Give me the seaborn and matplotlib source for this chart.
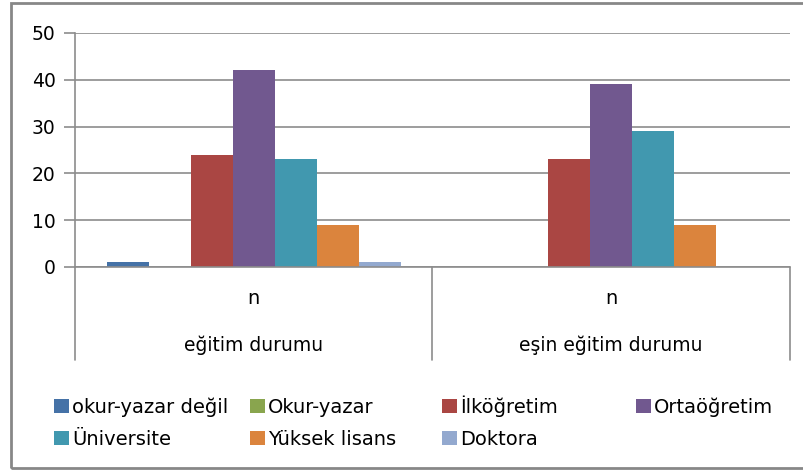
import matplotlib
matplotlib.use("Agg")
import matplotlib.pyplot as plt
import matplotlib.patches as mpatches
import seaborn as sns
import pandas as pd

groups = ["eğitim durumu", "eşin eğitim durumu"]
sub_label = "n"
series = ["okur-yazar değil", "Okur-yazar", "İlköğretim", "Ortaöğretim",
          "Üniversite", "Yüksek lisans", "Doktora"]
values_egitim = [1, 0, 24, 42, 23, 9, 1]
values_esin = [0, 0, 23, 39, 29, 9, 0]
colors = ["#4572A7", "#89A54E", "#AA4643", "#71588F", "#4198AF", "#DB843D", "#93A9CF"]
yticks = [0, 10, 20, 30, 40, 50]

rows = []
for g, vals in zip(groups, [values_egitim, values_esin]):
    for s, v in zip(series, vals):
        rows.append({"group": g, "series": s, "value": v})
df = pd.DataFrame(rows)

sns.set_theme(style="white")
plt.rcParams["font.family"] = ["DejaVu Sans"]
plt.rcParams["text.color"] = "black"

W, H = 804, 470
fig = plt.figure(figsize=(W / 100, H / 100), dpi=100)
ax = fig.add_axes([75 / W, 1 - 267 / H, 715 / W, 234 / H])

sns.barplot(data=df, x="group", y="value", hue="series", order=groups,
            hue_order=series, palette=colors, saturation=1, width=7 / 8.5,
            linewidth=0, ax=ax, legend=False)

ax.set_xlim(-0.5, 1.5)
ax.set_ylim(0, 50)
ax.set_yticks(yticks)
ax.set_yticklabels([str(t) for t in yticks], fontsize=13.5, color="#000000")
ax.yaxis.grid(True, color="#8c8c8c", linewidth=1.2)
ax.set_axisbelow(True)
ax.set_xlabel("")
ax.set_ylabel("")
ax.set_xticks([])
for side in ["top", "right", "bottom"]:
    ax.spines[side].set_visible(False)
ax.spines["left"].set_color("#8c8c8c")
ax.spines["left"].set_linewidth(1.2)
ax.tick_params(axis="y", which="both", left=True, length=8, width=1.2,
               color="#8c8c8c", pad=6)

# category axis region
depth = (360 - 267) / 234
xt = ax.get_xaxis_transform()
ax.plot([-0.5, 1.5], [0, 0], transform=xt, color="#8c8c8c", lw=1.2, clip_on=False)
for xb in [-0.5, 0.5, 1.5]:
    ax.plot([xb, xb], [0, -depth], transform=xt, color="#8c8c8c", lw=1.2, clip_on=False)
for i, g in enumerate(groups):
    ax.text(i, -(298 - 267) / 234, sub_label, transform=xt, ha="center", va="center",
            fontsize=14, color="black")
    ax.text(i, -(345 - 267) / 234, g, transform=xt, ha="center", va="center",
            fontsize=13.5, color="black")

# legend laid out on the reference grid (4 columns x 2 rows)
col_x = [54, 250, 442, 636]
row_base = [413, 445]
sq_w, sq_h = 15, 14
for k, (name, col) in enumerate(zip(series, colors)):
    r, c = divmod(k, 4)
    x0 = col_x[c]
    yb = row_base[r]
    fig.add_artist(mpatches.Rectangle((x0 / W, 1 - yb / H), sq_w / W, sq_h / H,
                                      transform=fig.transFigure, facecolor=col,
                                      edgecolor="none"))
    fig.text((x0 + 18) / W, 1 - yb / H, name, ha="left", va="baseline",
             fontsize=14, color="black")

# outer border
fig.add_artist(mpatches.Rectangle((11 / W, 1 - 468 / H), 1.0, 465 / H,
                                  transform=fig.transFigure, fill=False,
                                  edgecolor="#878787", linewidth=2))

fig.savefig("out.png", dpi=100)
